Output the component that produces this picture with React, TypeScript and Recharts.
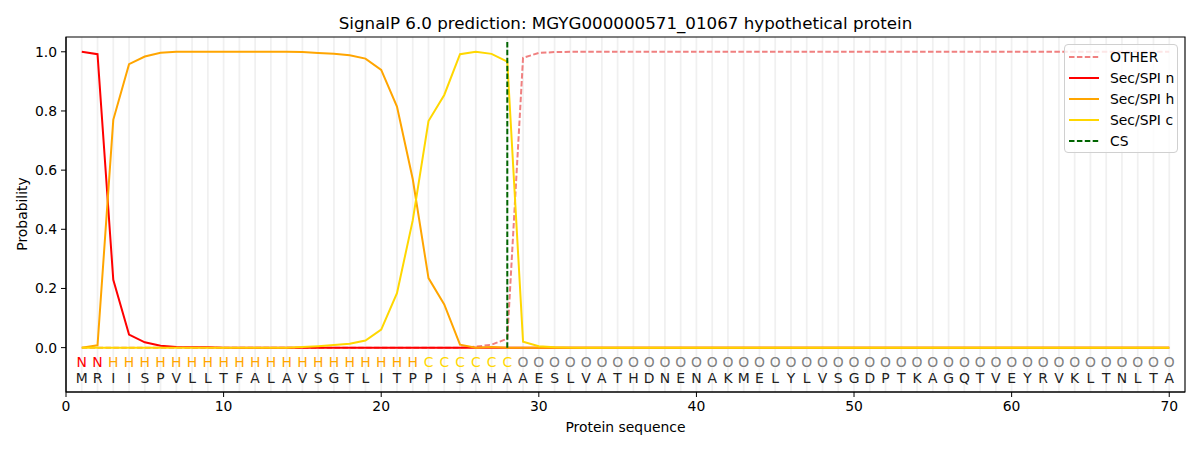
import React from "react"
import {
  CartesianGrid,
  Legend,
  Line,
  LineChart,
  ReferenceArea,
  ReferenceDot,
  ReferenceLine,
  XAxis,
  YAxis,
} from "recharts"

// Sequence and per-residue region labels.
const residues = "MRIISPVLLTFALAVSGTLITPPISAHAAESLVATHDNENAKMELYLVSGDPTKAGQTVEYRVKLTNLTA".split("")
const regions = ("NN" + "HHHHHHHHHHHHHHHHHHHH" + "CCCCCC" + "OOOOOOOOOOOOOOOOOOOOOOOOOOOOOOOOOOOOOOOOOO").split("")

// Per-residue probabilities (positions 1..70).
const other = [
  0, 0, 0, 0, 0, 0, 0, 0, 0, 0,
  0, 0, 0, 0, 0, 0, 0, 0, 0, 0,
  0, 0, 0, 0, 0, 0.003, 0.01, 0.03, 0.98, 0.996,
  0.999, 1, 1, 1, 1, 1, 1, 1, 1, 1,
  1, 1, 1, 1, 1, 1, 1, 1, 1, 1,
  1, 1, 1, 1, 1, 1, 1, 1, 1, 1,
  1, 1, 1, 1, 1, 1, 1, 1, 1, 1,
]
const secN = [
  1.0, 0.992, 0.229, 0.044, 0.018, 0.006, 0.002, 0.001, 0.001, 0,
  0, 0, 0, 0, 0, 0, 0, 0, 0, 0,
  0, 0, 0, 0, 0, 0, 0, 0, 0, 0,
  0, 0, 0, 0, 0, 0, 0, 0, 0, 0,
  0, 0, 0, 0, 0, 0, 0, 0, 0, 0,
  0, 0, 0, 0, 0, 0, 0, 0, 0, 0,
  0, 0, 0, 0, 0, 0, 0, 0, 0, 0,
]
const secH = [
  0, 0.008, 0.77, 0.958, 0.984, 0.997, 1.0, 1.0, 1.0, 1.0,
  1.0, 1.0, 1.0, 1.0, 0.999, 0.996, 0.993, 0.988, 0.977, 0.939,
  0.815, 0.57, 0.235, 0.146, 0.01, 0, 0.002, 0, 0, 0,
  0, 0, 0, 0, 0, 0, 0, 0, 0, 0,
  0, 0, 0, 0, 0, 0, 0, 0, 0, 0,
  0, 0, 0, 0, 0, 0, 0, 0, 0, 0,
  0, 0, 0, 0, 0, 0, 0, 0, 0, 0,
]
const secC = [
  0, 0, 0, 0, 0, 0, 0, 0, 0, 0,
  0, 0, 0, 0, 0.002, 0.005, 0.009, 0.013, 0.024, 0.061,
  0.184, 0.43, 0.766, 0.854, 0.992, 1.0, 0.993, 0.967, 0.02, 0.005,
  0.001, 0, 0, 0, 0, 0, 0, 0, 0, 0,
  0, 0, 0, 0, 0, 0, 0, 0, 0, 0,
  0, 0, 0, 0, 0, 0, 0, 0, 0, 0,
  0, 0, 0, 0, 0, 0, 0, 0, 0, 0,
]
const cleavageSite = 28
const xTicks = [0, 10, 20, 30, 40, 50, 60, 70]
const yTicks = [0, 0.2, 0.4, 0.6, 0.8, 1.0]

const FONT = "'DejaVu Sans', sans-serif"
const REGION_ROW = -0.047
const RESIDUE_ROW = -0.102
const DASH = "5.5 2.4"

const regionColors: Record<string, string> = {
  N: "#ff0000",
  H: "#ffa500",
  C: "#ffd700",
  O: "#808080",
}

const series = [
  { key: "other", label: "OTHER", color: "#f08080", dash: DASH },
  { key: "n", label: "Sec/SPI n", color: "#ff0000" },
  { key: "h", label: "Sec/SPI h", color: "#ffa500" },
  { key: "c", label: "Sec/SPI c", color: "#ffd700" },
]

const rows = residues.map((aa, i) => ({
  pos: i + 1,
  other: other[i],
  n: secN[i],
  h: secH[i],
  c: secC[i],
}))
const positions = rows.map((r) => r.pos)

function LegendBox() {
  const items = [
    ...series,
    { key: "cs", label: "CS", color: "#006400", dash: DASH },
  ]
  return (
    <div
      style={{
        boxSizing: "border-box",
        width: 114,
        height: 109,
        padding: "1px 0",
        border: "1px solid #d0d0d0",
        borderRadius: 4,
        background: "rgba(255,255,255,0.8)",
        fontFamily: FONT,
        fontSize: 13.9,
        color: "#000",
      }}
    >
      {items.map((it) => (
        <div
          key={it.key}
          style={{ display: "flex", alignItems: "center", height: 21, whiteSpace: "nowrap" }}
        >
          <svg width={41} height={10} style={{ marginLeft: 4, flexShrink: 0 }}>
            <line
              x1={0}
              x2={30}
              y1={5}
              y2={5}
              stroke={it.color}
              strokeWidth={2}
              strokeDasharray={it.dash}
            />
          </svg>
          <span>{it.label}</span>
        </div>
      ))}
    </div>
  )
}

export default function App() {
  return (
    <div style={{ position: "absolute", left: 0, top: 0, width: 1200, height: 450, background: "#fff" }}>
      <div
        style={{
          position: "absolute",
          left: 66,
          width: 1119,
          top: 13,
          textAlign: "center",
          fontFamily: FONT,
          fontSize: 16.7,
          color: "#000",
        }}
      >
        SignalP 6.0 prediction: MGYG000000571_01067 hypothetical protein
      </div>
      <div
        style={{
          position: "absolute",
          left: 66,
          width: 1119,
          top: 419,
          textAlign: "center",
          fontFamily: FONT,
          fontSize: 13.9,
          color: "#000",
        }}
      >
        Protein sequence
      </div>
      <div
        style={{
          position: "absolute",
          left: 22,
          top: 214,
          transform: "translate(-50%, -50%) rotate(-90deg)",
          fontFamily: FONT,
          fontSize: 13.9,
          color: "#000",
          whiteSpace: "nowrap",
        }}
      >
        Probability
      </div>

      <LineChart
        width={1200}
        height={450}
        data={rows}
        margin={{ top: 37, right: 15, bottom: 28, left: 6 }}
      >
        <CartesianGrid
          xAxisId="grid"
          horizontal={false}
          stroke="#000"
          strokeOpacity={0.06}
          strokeWidth={1.8}
        />
        <XAxis
          xAxisId="grid"
          type="number"
          dataKey="pos"
          domain={[0, 71]}
          ticks={positions}
          interval={0}
          allowDataOverflow
          hide
        />
        <XAxis
          type="number"
          dataKey="pos"
          domain={[0, 71]}
          ticks={xTicks}
          allowDataOverflow
          height={30}
          tickSize={5}
          tickMargin={4}
          stroke="#000"
          tick={{ fill: "#000", fontSize: 13.9, fontFamily: FONT }}
        />
        <YAxis
          type="number"
          domain={[-0.15, 1.05]}
          ticks={yTicks}
          allowDataOverflow
          width={60}
          tickSize={5}
          tickMargin={4}
          stroke="#000"
          tickFormatter={(v: number) => v.toFixed(1)}
          tick={{ fill: "#000", fontSize: 13.9, fontFamily: FONT }}
        />
        {series.map((s) => (
          <Line
            key={s.key}
            type="linear"
            dataKey={s.key}
            stroke={s.color}
            strokeWidth={2}
            strokeDasharray={s.dash}
            dot={false}
            activeDot={false}
            isAnimationActive={false}
          />
        ))}
        <ReferenceLine
          segment={[
            { x: cleavageSite, y: 0 },
            { x: cleavageSite, y: 1.037 },
          ]}
          stroke="#006400"
          strokeWidth={2}
          strokeDasharray={DASH}
        />
        {regions.map((r, i) => (
          <ReferenceDot
            key={"r" + i}
            x={i + 1}
            y={REGION_ROW}
            r={1}
            shape={(p: any) => (
              <text
                x={p.cx}
                y={p.cy}
                textAnchor="middle"
                dominantBaseline="central"
                fill={regionColors[r]}
                fontSize={13.9}
                fontFamily={FONT}
              >
                {r}
              </text>
            )}
          />
        ))}
        {residues.map((aa, i) => (
          <ReferenceDot
            key={"a" + i}
            x={i + 1}
            y={RESIDUE_ROW}
            r={1}
            shape={(p: any) => (
              <text
                x={p.cx}
                y={p.cy}
                textAnchor="middle"
                dominantBaseline="central"
                fill="#222"
                fontSize={13.9}
                fontFamily={FONT}
              >
                {aa}
              </text>
            )}
          />
        ))}
        <ReferenceArea
          x1={0}
          x2={71}
          y1={-0.15}
          y2={1.05}
          fill="none"
          stroke="#000"
          strokeWidth={1.1}
        />
        <Legend
          layout="vertical"
          align="center"
          verticalAlign="middle"
          wrapperStyle={{ left: 1064, top: 44, width: 114 }}
          content={() => <LegendBox />}
        />
      </LineChart>
    </div>
  )
}
